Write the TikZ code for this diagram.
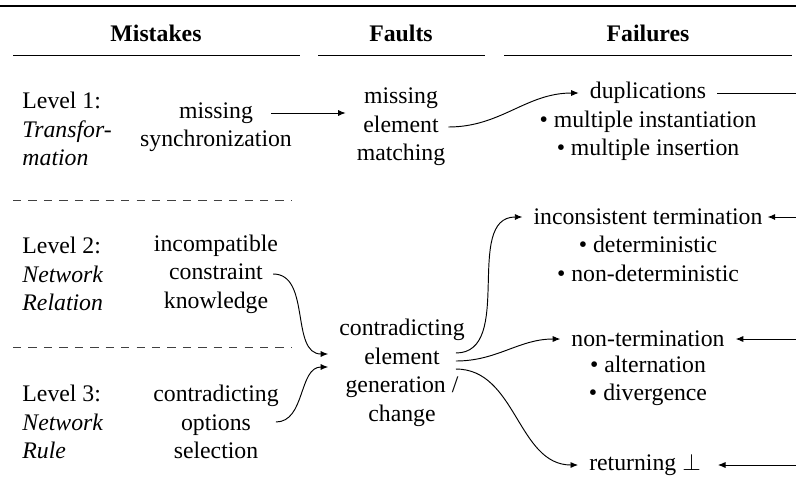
\documentclass[tikz,border=0pt]{standalone}
\usepackage{fontspec}
\setmainfont{Liberation Serif}
\usetikzlibrary{calc,arrows.meta}

\begin{document}
\begin{tikzpicture}[
    x=0.421pt, y=-0.421pt,
    % Node styles
    txt/.style={align=center, inner sep=4.5pt},
    level/.style={align=left, anchor=west, inner sep=0pt},
    head/.style={font=\bfseries},
    arrow/.style={-{Latex[length=3.2pt,width=2.6pt]}, draw=black},
    sep/.style={draw=black!75, dash pattern=on 3.5pt off 3pt},
]
    \useasboundingbox (0,0) rectangle (796,497);

    % Headers
    \draw[line width=1pt] (0,6) -- (796,6);
    \node[head] (hmis) at (156,33) {Mistakes};
    \node[head] (hfau) at (401,33) {Faults};
    \node[head] (hfai) at (648,33) {Failures};
    \draw (13,55) -- (300,55);
    \draw (318,55) -- (485,55);
    \draw (504,55) -- (792,55);

    % Levels
    \node[level] (lev1) at (22,129) {Level 1:\\\textit{Transfor-}\\\textit{mation}};
    \node[level] (lev2) at (22,274) {Level 2:\\\textit{Network}\\\textit{Relation}};
    \node[level] (lev3) at (22,422) {Level 3:\\\textit{Network}\\\textit{Rule}};
    \draw[sep] (13,200) -- (292,200);
    \draw[sep] (13,347) -- (292,347);

    % Mistakes
    \node[txt] (msync) at (216,127) {missing\\synchronization};
    \node[txt] (incomp) at (216,274) {incompatible\\constraint\\knowledge};
    \node[txt] (contra) at (216,422) {contradicting\\options\\selection};

    % Faults
    \node[txt] (mem) at (401,127) {missing\\element\\matching};
    \node[txt] (ceg) at (402,373) {contradicting\\element\\generation /\\change};

    % Failures
    \node[txt] (dup) at (648,93) {duplications};
    \node[txt] (dupl) at (648,136) {\textbullet{} multiple instantiation\\\textbullet{} multiple insertion};
    \node[txt] (incons) at (648,217) {inconsistent termination};
    \node[txt] (inconsl) at (648,259) {\textbullet{} deterministic\\\textbullet{} non-deterministic};
    \node[txt] (nonterm) at (648,339) {non-termination};
    \node[txt] (nonterml) at (648,381) {\textbullet{} alternation\\\textbullet{} divergence};
    \node[txt] (ret) at (645,465) {returning $\bot$};

    % Right edge
    \coordinate (e1) at (796,93);
    \coordinate (e2) at (796,217);
    \coordinate (e3) at (796,339);
    \coordinate (e4) at (796,465);

    % Connections
    \draw[arrow] ($(msync.east)+(-32,-14)$) -- ($(mem.west)+(0,-14)$);
    \draw[arrow] ($(mem.east)+(-8,0)$) to[out=0,in=180] (dup.west);
    \draw (dup.east) -- (e1);
    \draw[arrow] ($(incomp.east)+(-16,0)$) to[out=0,in=180] ($(ceg.west)+(0,-19)$);
    \draw[arrow] ($(contra.east)+(-14,0)$) to[out=0,in=180] ($(ceg.west)+(0,-6)$);
    \draw[arrow] ($(ceg.east)+(-20,-20)$) to[out=0,in=180] (incons.west);
    \draw[arrow] ($(ceg.east)+(-20,-12)$) to[out=0,in=180] (nonterm.west);
    \draw[arrow] ($(ceg.east)+(-20,-4)$) to[out=0,in=180] (ret.west);
    \draw[arrow] (e2) -- ($(incons.east)+(-6,0)$);
    \draw[arrow] (e3) -- (nonterm.east);
    \draw[arrow] (e4) -- ($(ret.east)+(6,0)$);

\end{tikzpicture}
\end{document}
